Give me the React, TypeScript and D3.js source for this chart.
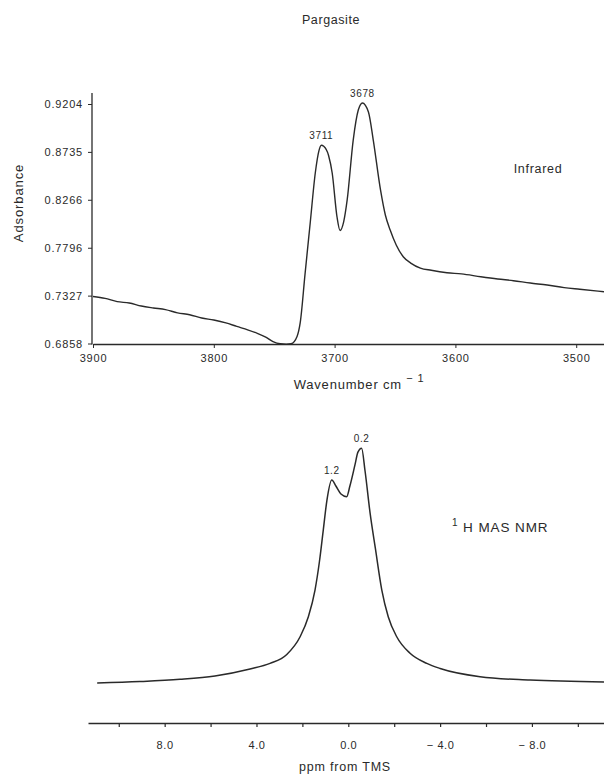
import React, { useEffect, useRef } from 'react';
import * as d3 from 'd3';

// infrared spectrum (wavenumber cm-1 / absorbance)
const irWavenumber = [
  3900, 3890, 3880, 3870, 3860, 3850, 3840, 3830, 3820, 3810, 3800, 3790, 3781, 3772, 3764,
  3757, 3751, 3745, 3740, 3736, 3731, 3728.5, 3724.4, 3720.2, 3716, 3713, 3711, 3709, 3705,
  3702, 3698, 3695.5, 3692.5, 3689.6, 3684.6, 3680.4, 3677, 3672, 3668, 3662, 3658, 3654,
  3649, 3643, 3637, 3629, 3620, 3607, 3595, 3579, 3565, 3552, 3538, 3524, 3510, 3497, 3477,
];
const irAbsorbance = [
  0.7318, 0.7300, 0.7268, 0.7255, 0.7225, 0.7206, 0.7190, 0.7158, 0.7140, 0.7108, 0.7088,
  0.7060, 0.7025, 0.6992, 0.6958, 0.6920, 0.6876, 0.6855, 0.6852, 0.6856, 0.6930, 0.7059,
  0.7548, 0.8038, 0.8528, 0.8745, 0.8800, 0.8790, 0.8700, 0.8528, 0.8097, 0.7965, 0.8050,
  0.8264, 0.8851, 0.9145, 0.9214, 0.9125, 0.8851, 0.8362, 0.8117, 0.7970, 0.7823, 0.7705,
  0.7646, 0.7597, 0.7575, 0.7551, 0.7540, 0.7512, 0.7490, 0.7473, 0.7450, 0.7431, 0.7405,
  0.7389, 0.7365,
];
const irTicksY = [0.6858, 0.7327, 0.7796, 0.8266, 0.8735, 0.9204];
const irTicksX = [3900, 3800, 3700, 3600, 3500];
const irPeakWavenumber = [3711, 3677];
const irPeakLabels = ['3711', '3678'];

// 1H MAS NMR spectrum (ppm / relative intensity)
const nmrPpm = [
  10.94, 9.08, 7.33, 5.81, 4.28, 3.41, 2.68, 2.1, 1.74, 1.45, 1.26, 1.09, 0.93, 0.72, 0.54,
  0.32, 0.07, -0.07, -0.29, -0.42, -0.58, -0.73, -0.95, -1.18, -1.46, -1.74, -2.11,
  -2.69, -3.42, -4.0, -5.74, -7.92, -11.14,
];
const nmrIntensity = [
  0.029, 0.035, 0.044, 0.058, 0.087, 0.11, 0.147, 0.22, 0.303, 0.413, 0.529, 0.661, 0.785,
  0.868, 0.843, 0.81, 0.799, 0.843, 0.93, 0.983, 0.999, 0.905, 0.731, 0.585, 0.413,
  0.303, 0.22, 0.152, 0.11, 0.089, 0.055, 0.041, 0.033,
];
const nmrTicks = [10, 8, 6, 4, 2, 0, -2, -4, -6, -8, -10];
const nmrLabelTicks = [8, 4, 0, -4, -8];
const nmrPeakPpm = [0.72, -0.58];
const nmrPeakLabels = ['1.2', '0.2'];

const FONT = '"Liberation Sans", Arial, sans-serif';
const INK = '#2a2a2a';

const App = () => {
  const ref = useRef<SVGSVGElement>(null);

  useEffect(() => {
    const svg = d3.select(ref.current);
    svg.selectAll('*').remove();
    svg.attr('font-family', FONT).attr('fill', INK);

    // title
    svg.append('text')
      .attr('x', 331).attr('y', 24)
      .attr('text-anchor', 'middle')
      .attr('font-size', 12.5).attr('letter-spacing', 0.6)
      .text('Pargasite');

    // ---------- infrared ----------
    const x = d3.scaleLinear().domain([3900, 3477]).range([93, 604]);
    const y = d3.scaleLinear().domain([0.6858, 0.9204]).range([343.5, 104]);

    const gx = svg.append('g').attr('transform', 'translate(0,344)')
      .call(d3.axisBottom(x).tickValues(irTicksX).tickSize(4).tickSizeOuter(0).tickFormat(d3.format('d')));
    gx.select('.domain').attr('stroke', INK).attr('stroke-width', 1.3);
    gx.selectAll('line').attr('stroke', INK);
    gx.selectAll('text').attr('font-family', FONT).attr('font-size', 11)
      .attr('letter-spacing', 0.8).attr('fill', INK).attr('y', 10).attr('dy', '0.71em');

    const gy = svg.append('g').attr('transform', 'translate(92,0)')
      .call(d3.axisLeft(y).tickValues(irTicksY).tickSize(4).tickSizeOuter(0).tickFormat(d3.format('.4f')));
    gy.select('.domain').remove();
    gy.selectAll('line').attr('stroke', INK);
    gy.selectAll('text').attr('font-family', FONT).attr('font-size', 11)
      .attr('letter-spacing', 0.8).attr('fill', INK).attr('x', -9);
    svg.append('line')
      .attr('x1', 92).attr('x2', 92).attr('y1', 93).attr('y2', 344.5)
      .attr('stroke', INK).attr('stroke-width', 1.3);

    const irLine = d3.line<number>()
      .x((d, i) => x(irWavenumber[i]))
      .y(d => y(d))
      .curve(d3.curveMonotoneX);
    svg.append('path')
      .datum(irAbsorbance)
      .attr('fill', 'none').attr('stroke', INK).attr('stroke-width', 1.4)
      .attr('stroke-linejoin', 'round')
      .attr('d', irLine);

    irPeakWavenumber.forEach((wn, k) => {
      const i = irWavenumber.indexOf(wn);
      svg.append('text')
        .attr('x', x(wn)).attr('y', y(irAbsorbance[i]) - 6)
        .attr('text-anchor', 'middle')
        .attr('font-size', 10).attr('letter-spacing', 0.6)
        .text(irPeakLabels[k]);
    });

    svg.append('text')
      .attr('x', 18).attr('y', 203)
      .attr('transform', 'rotate(-90,18,203)')
      .attr('text-anchor', 'middle').attr('dy', '0.35em')
      .attr('font-size', 13).attr('letter-spacing', 0.9)
      .text('Adsorbance');

    const wl = svg.append('text')
      .attr('x', 359).attr('y', 389)
      .attr('text-anchor', 'middle')
      .attr('font-size', 13).attr('letter-spacing', 0.8);
    wl.append('tspan').text('Wavenumber  cm ');
    wl.append('tspan').attr('dy', -7).attr('font-size', 11).text('\u2212 1');

    svg.append('text')
      .attr('x', 538).attr('y', 173)
      .attr('text-anchor', 'middle')
      .attr('font-size', 12.5).attr('letter-spacing', 0.7)
      .text('Infrared');

    // ---------- NMR ----------
    const xn = d3.scaleLinear().domain([11.34, -11.14]).range([88, 604]);
    const yn = d3.scaleLinear().domain([0, 1]).range([690, 448]);

    const gn = svg.append('g').attr('transform', 'translate(0,723)')
      .call(d3.axisBottom(xn).tickValues(nmrTicks).tickSize(4).tickSizeOuter(0)
        .tickFormat((d: any) => nmrLabelTicks.includes(d)
          ? (d < 0 ? `\u2212 ${Math.abs(d).toFixed(1)}` : d.toFixed(1)) : ''));
    gn.select('.domain').attr('stroke', INK).attr('stroke-width', 1.6);
    gn.selectAll('line').attr('stroke', INK).attr('stroke-width', 1.2);
    gn.selectAll('text').attr('font-family', FONT).attr('font-size', 11)
      .attr('letter-spacing', 0.6).attr('fill', INK).attr('y', 18).attr('dy', '0.71em');

    const nmrLine = d3.line<number>()
      .x((d, i) => xn(nmrPpm[i]))
      .y(d => yn(d))
      .curve(d3.curveMonotoneX);
    svg.append('path')
      .datum(nmrIntensity)
      .attr('fill', 'none').attr('stroke', INK).attr('stroke-width', 1.5)
      .attr('stroke-linejoin', 'round')
      .attr('d', nmrLine);

    nmrPeakPpm.forEach((p, k) => {
      const i = nmrPpm.indexOf(p);
      svg.append('text')
        .attr('x', xn(p)).attr('y', yn(nmrIntensity[i]) - 6)
        .attr('text-anchor', 'middle')
        .attr('font-size', 10).attr('letter-spacing', 0.6)
        .text(nmrPeakLabels[k]);
    });

    const nl = svg.append('text')
      .attr('x', 452).attr('y', 532)
      .attr('font-size', 13.5).attr('letter-spacing', 0.9);
    nl.append('tspan').attr('font-size', 10).attr('dy', -6).text('1');
    nl.append('tspan').attr('dy', 6).text(' H  MAS  NMR');

    svg.append('text')
      .attr('x', 345).attr('y', 771)
      .attr('text-anchor', 'middle')
      .attr('font-size', 12.5).attr('letter-spacing', 0.8)
      .text('ppm  from  TMS');
  }, []);

  return (
    <svg ref={ref} width={604} height={777}
      style={{ position: 'absolute', left: 0, top: 0, background: '#fff' }} />
  );
};

export default App;
